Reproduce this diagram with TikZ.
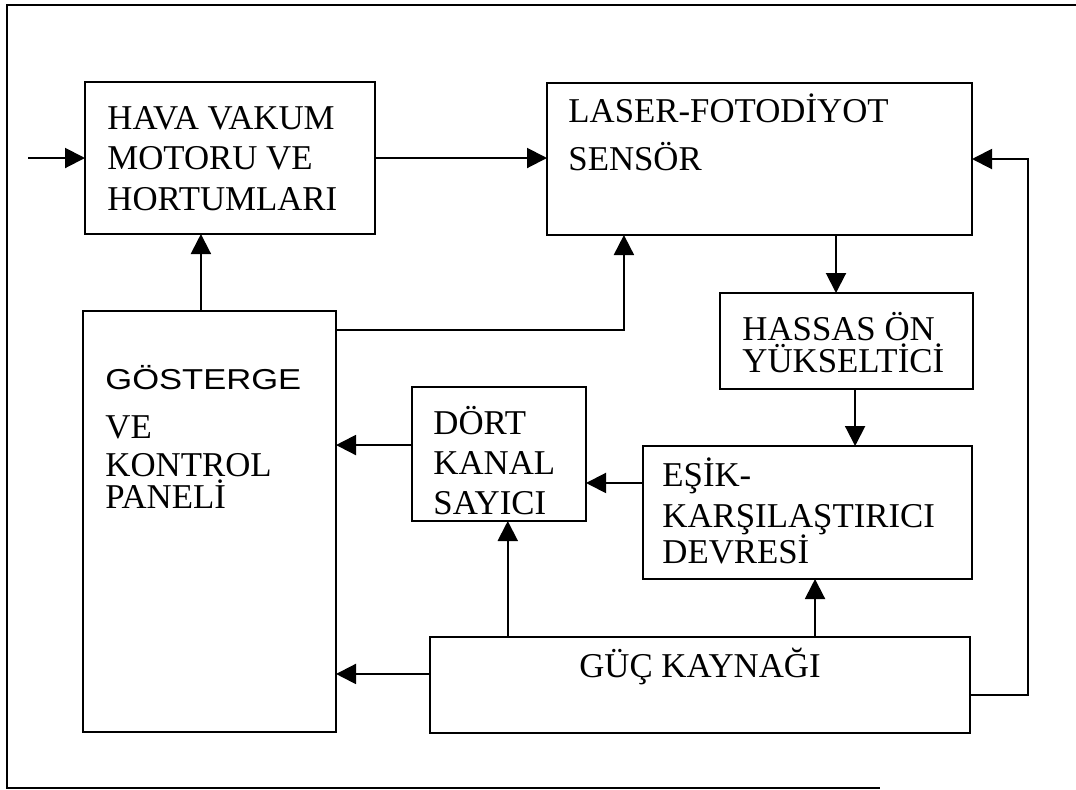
\documentclass[tikz,border=0pt]{standalone}
\usepackage{fontspec}
\setmainfont{Liberation Serif}
\newfontfamily\gostfont[FakeStretch=1.2]{Liberation Sans}
\usetikzlibrary{arrows.meta,calc}
\newcommand\tightlines{\lineskiplimit -20pt\relax}

\begin{document}
\begin{tikzpicture}[
      x=0.5pt, y=-0.5pt,
      box/.style={draw, line width=1.3pt, anchor=north west,
                  inner sep=0pt, outer sep=0pt},
      txt/.style={anchor=base west, align=left, inner sep=0pt,
                  font=\fontsize{17.4}{20}\selectfont\tightlines},
      arr/.style={-{Triangle[length=10pt, width=10pt]}, line width=1pt}
    ]
    \useasboundingbox (0,0) rectangle (1076,789);
    \draw[line width=1.1pt] (1076,5) -- (7,5) -- (7,788) -- (880,788);

    % blocks
    \node[box, minimum width=145pt, minimum height=76pt] (hava) at (85,82) {};
    \node[box, minimum width=212.5pt, minimum height=76pt] (laser) at (547,83) {};
    \node[box, minimum width=126.5pt, minimum height=48pt] (hassas) at (720,293) {};
    \node[box, minimum width=126.5pt, minimum height=210.5pt] (gosterge) at (83,311) {};
    \node[box, minimum width=87pt, minimum height=67pt] (dort) at (412,387) {};
    \node[box, minimum width=164.5pt, minimum height=66.5pt] (esik) at (643,446) {};
    \node[box, minimum width=270pt, minimum height=48pt] (guc) at (430,637) {};

    % texts (anchored at the baseline of the last line)
    \node[txt, font=\fontsize{17.4}{20.25}\selectfont\tightlines] (havatxt)
      at ($(hava.north west)+(22,128)$) {HAVA VAKUM\\MOTORU VE\\HORTUMLARI};
    \node[txt, font=\fontsize{17.4}{24}\selectfont\tightlines] (lasertxt)
      at ($(laser.north west)+(21,87)$) {LASER-FOTODİYOT\\SENSÖR};
    \node[txt, font=\fontsize{17.4}{16}\selectfont\tightlines] (hassastxt)
      at ($(hassas.north west)+(22,79)$) {HASSAS ÖN\\YÜKSELTİCİ};
    \node[txt] (dorttxt)
      at ($(dort.north west)+(21,127)$) {DÖRT\\KANAL\\SAYICI};
    \node[txt, font=\fontsize{17.4}{16}\selectfont\tightlines] (gostergetxt)
      at ($(gosterge.north west)+(22,197)$)
      {{\gostfont\fontsize{14.4}{16}\selectfont GÖSTERGE}\\[8.5pt]VE\\[3pt]KONTROL\\PANELİ};
    \node[txt, font=\fontsize{17.4}{18}\selectfont\tightlines] (esiktxt)
      at ($(esik.north west)+(19,117)$) {EŞİK-\\[2.5pt]KARŞILAŞTIRICI\\DEVRESİ};
    \node[txt, anchor=base] (guctxt) at ($(guc.north)+(0,40)$) {GÜÇ KAYNAĞI};

    % connections
    \coordinate (in) at (28,158);
    \draw[arr] (in) -- (hava.west);
    \draw[arr] (hava.east) -- (hava.east -| laser.west);
    \draw[arr] ($(gosterge.north west)!0.466!(gosterge.north east)$) coordinate (g1)
      -- (g1 |- hava.south);
    \draw[arr] ($(gosterge.north east)+(0,19)$)
      -| ($(laser.south west)!0.181!(laser.south east)$);
    \draw[arr] ($(laser.south west)!0.68!(laser.south east)$) coordinate (l1)
      -- (l1 |- hassas.north);
    \draw[arr] ($(hassas.south west)!0.534!(hassas.south east)$) coordinate (h1)
      -- (h1 |- esik.north);
    \draw[arr] ($(esik.north west)!0.278!(esik.south west)$) coordinate (e1)
      -- (e1 -| dort.east);
    \draw[arr] ($(dort.north west)!0.433!(dort.south west)$) coordinate (d1)
      -- (d1 -| gosterge.east);
    \draw[arr] ($(guc.north west)!0.144!(guc.north east)$) coordinate (p1)
      -- (p1 |- dort.south);
    \draw[arr] ($(guc.north west)!0.713!(guc.north east)$) coordinate (p2)
      -- (p2 |- esik.south);
    \draw[arr] ($(guc.north west)!0.385!(guc.south west)$) coordinate (p3)
      -- (p3 -| gosterge.east);
    \draw[arr] ($(guc.north east)!0.604!(guc.south east)$)
      -- ++(58,0) |- (laser.east);
  \end{tikzpicture}
\end{document}
